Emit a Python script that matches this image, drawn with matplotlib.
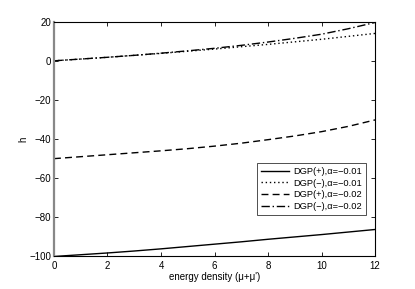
import matplotlib
matplotlib.use("Agg")
import matplotlib.pyplot as plt

energy = [0, 1, 2, 3, 4, 5, 6, 7, 8, 9, 10, 11, 12]
dgp_plus_001 = [-100, -99.1, -98.2, -97.2, -96.1, -94.9, -93.7, -92.5, -91.2, -90.0, -88.8, -87.5, -86.2]
dgp_minus_001 = [0, 0.9, 1.8, 2.8, 3.8, 4.9, 6.0, 7.2, 8.4, 9.7, 11.0, 12.5, 14.0]
dgp_plus_002 = [-50, -49.0, -48.0, -47.0, -46.0, -44.9, -43.6, -42.1, -40.3, -38.4, -36.2, -33.5, -30.2]
dgp_minus_002 = [0, 0.9, 1.8, 2.8, 3.9, 5.1, 6.4, 7.9, 9.6, 11.5, 13.6, 16.4, 19.6]
labels = ["DGP(+),α=−0.01", "DGP(−),α=−0.01", "DGP(+),α=−0.02", "DGP(−),α=−0.02"]
xticks = [0, 2, 4, 6, 8, 10, 12]
yticks = [-100, -80, -60, -40, -20, 0, 20]

plt.rcParams['font.family'] = ['Liberation Sans', 'DejaVu Sans']
fig = plt.figure(figsize=(4.15, 2.89), dpi=100)
ax = fig.add_axes([0.130, 0.1125, 0.774, 0.8125])

ax.plot(energy, dgp_plus_001, color='black', lw=1.0, linestyle='-', label=labels[0])
ax.plot(energy, dgp_minus_001, color='black', lw=1.0, linestyle=(0, (1, 2)), label=labels[1])
ax.plot(energy, dgp_plus_002, color='black', lw=1.0, linestyle=(0, (5, 3)), label=labels[2])
ax.plot(energy, dgp_minus_002, color='black', lw=1.0, linestyle=(0, (6, 2, 1, 2)), label=labels[3])

ax.set_xlim(0, 12)
ax.set_ylim(-100, 20)
ax.set_xticks(xticks)
ax.set_yticks(yticks)
ax.set_yticklabels([str(v).replace('-', '−') for v in yticks])
ax.tick_params(direction='in', top=True, right=True, labelsize=7, length=3, width=0.6)
ax.tick_params(axis='x', pad=3)
ax.tick_params(axis='y', pad=2)
for s in ax.spines.values():
    s.set_linewidth(0.8)
ax.spines['left'].set_color('#888888')
ax.spines['left'].set_linewidth(1.6)

ax.set_xlabel("energy density (μ+μ')", fontsize=7, labelpad=1)
ax.set_ylabel("h", fontsize=7, labelpad=1)

leg = ax.legend(loc='lower right', bbox_to_anchor=(0.972, 0.177), fontsize=6.7,
                frameon=True, fancybox=False, edgecolor='black', handlelength=3.0,
                borderpad=0.4, labelspacing=0.3, handletextpad=0.5, borderaxespad=0)
leg.get_frame().set_linewidth(0.6)

fig.savefig("out.png", dpi=100)
